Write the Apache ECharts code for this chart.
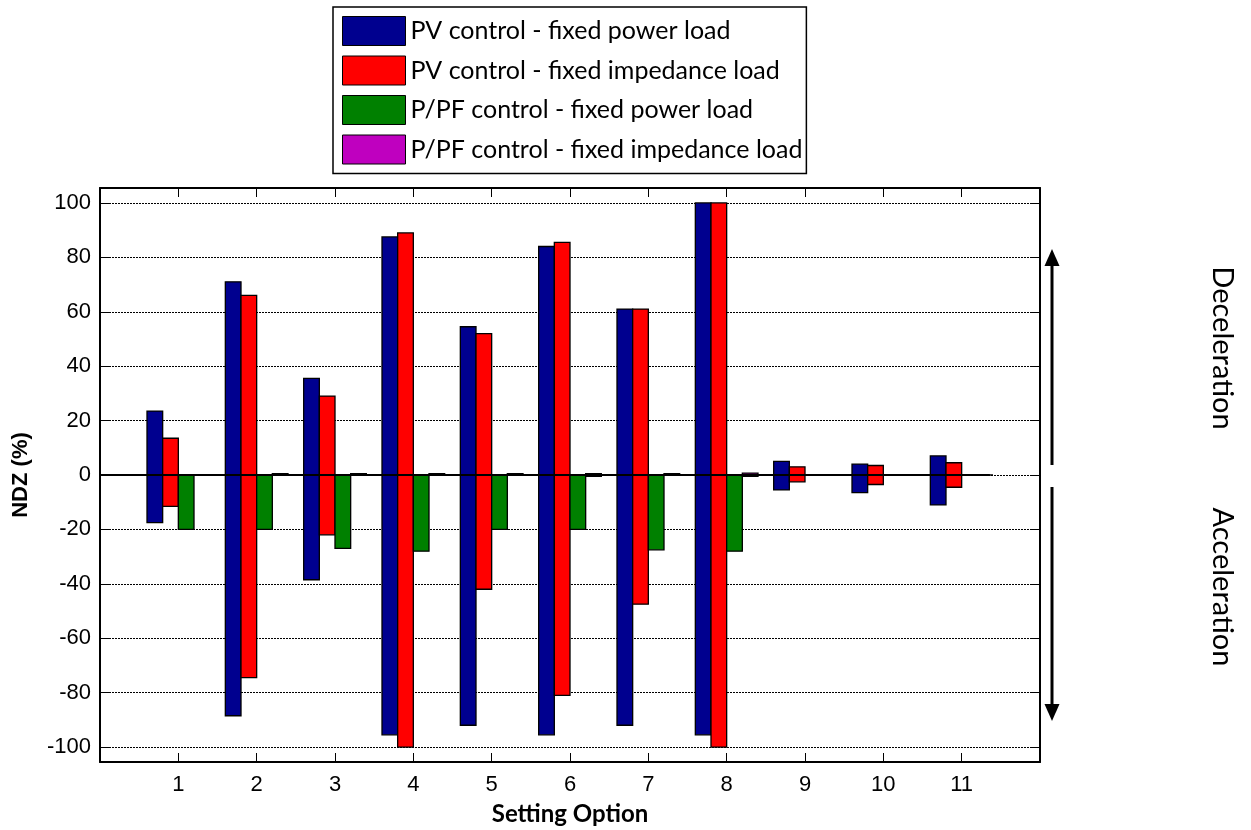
<!DOCTYPE html>
<html>
<head>
<meta charset="utf-8">
<title>NDZ by setting option</title>
<script src="https://cdn.jsdelivr.net/npm/echarts@6/dist/echarts.min.js"></script>
<style>
  html, body { margin: 0; padding: 0; background: #fff; }
  #chart { width: 1251px; height: 830px; }
</style>
</head>
<body>
<div id="chart"></div>
<script>
// Setting options on the x axis
const settingOptions = [1, 2, 3, 4, 5, 6, 7, 8, 9, 10, 11];
const yTicks = [-100, -80, -60, -40, -20, 0, 20, 40, 60, 80, 100];

// NDZ limits (%) per setting option: upper (deceleration) and lower (acceleration)
const pvPowerHigh = [23.5, 71, 35.5, 87.5, 54.5, 84, 61, 100, 5, 4, 7];
const pvPowerLow = [-17.5, -88.5, -38.5, -95.5, -92, -95.5, -92, -95.5, -5.5, -6.5, -11];
const pvImpHigh = [13.5, 66, 29, 89, 52, 85.5, 61, 100, 3, 3.5, 4.5];
const pvImpLow = [-11.5, -74.5, -22, -100, -42, -81, -47.5, -100, -2.5, -3.5, -4.5];
const pfPowerHigh = [0, 0, 0, 0, 0, 0, 0, 0, 0, 0, 0];
const pfPowerLow = [-20, -20, -27, -28, -20, -20, -27.5, -28, 0, 0, 0];
const pfImpHigh = [0, 0.5, 0.5, 0.5, 0.5, 0.5, 0.5, 0.7, 0, 0, 0];
const pfImpLow = [0, 0, 0, 0, 0, -0.5, 0, -0.5, 0, 0, 0];

// Zero baseline extent along x
const baselineX = [0, 11.36];

const seriesNames = [
  'PV control - fixed power load',
  'PV control - fixed impedance load',
  'P/PF control - fixed power load',
  'P/PF control - fixed impedance load'
];
const seriesColors = ['#00008F', '#FF0000', '#008000', '#BF00BF'];
const seriesHigh = [pvPowerHigh, pvImpHigh, pfPowerHigh, pfImpHigh];
const seriesLow = [pvPowerLow, pvImpLow, pfPowerLow, pfImpLow];

const BAR_W = 0.2;          // bar width in x units
const GROUP_W = BAR_W * 4;  // grouped bars centred on each option

function rangeBars(k) {
  return {
    type: 'custom',
    name: seriesNames[k],
    itemStyle: { color: seriesColors[k], borderColor: '#000', borderWidth: 1 },
    encode: { x: 0, y: [1, 2] },
    data: settingOptions.map((o, i) => [o, seriesLow[k][i], seriesHigh[k][i]]),
    renderItem: function (params, api) {
      const x0 = api.value(0) - GROUP_W / 2 + k * BAR_W;
      const p1 = api.coord([x0, api.value(2)]);
      const p2 = api.coord([x0 + BAR_W, api.value(1)]);
      return {
        type: 'rect',
        shape: { x: p1[0], y: p1[1], width: p2[0] - p1[0], height: p2[1] - p1[1] },
        style: { fill: seriesColors[k], stroke: '#000', lineWidth: 1.3 }
      };
    },
    z: 3
  };
}

const axisFont = { fontFamily: 'Liberation Sans, Arial, sans-serif', fontSize: 22, color: '#000' };

const chart = echarts.init(document.getElementById('chart'));
chart.setOption({
  animation: false,
  backgroundColor: '#fff',
  grid: { left: 100, right: 211, top: 188, bottom: 68, containLabel: false, outerBoundsMode: 'none' },
  legend: {
    orient: 'vertical',
    left: 333,
    top: 7,
    itemWidth: 63,
    itemHeight: 29,
    itemGap: 9.5,
    padding: [9, 4, 9, 9],
    borderColor: '#000',
    borderWidth: 1.5,
    icon: 'rect',
    selectedMode: false,
    textStyle: { fontFamily: 'Lato, sans-serif', fontSize: 25, lineHeight: 29, color: '#000' },
    data: seriesNames.map((n, k) => ({
      name: n,
      itemStyle: { color: seriesColors[k], borderColor: '#000', borderWidth: 1 }
    }))
  },
  xAxis: [
    {
      type: 'value', min: 0, max: 12, position: 'bottom',
      name: 'Setting Option', nameLocation: 'middle', nameGap: 40,
      nameTextStyle: { fontFamily: 'Lato, sans-serif', fontWeight: 'bold', fontSize: 24, color: '#000' },
      axisLine: { show: true, onZero: false, lineStyle: { color: '#000', width: 2 } },
      axisTick: { show: true, inside: true, length: 9, customValues: settingOptions, lineStyle: { color: '#000', width: 1 } },
      axisLabel: Object.assign({ customValues: settingOptions, margin: 12 }, axisFont),
      splitLine: { show: false }
    },
    {
      type: 'value', min: 0, max: 12, position: 'top',
      axisLine: { show: true, onZero: false, lineStyle: { color: '#000', width: 2 } },
      axisTick: { show: true, inside: true, length: 9, customValues: settingOptions, lineStyle: { color: '#000', width: 1 } },
      axisLabel: { show: false },
      splitLine: { show: false }
    }
  ],
  yAxis: [
    {
      type: 'value', min: -105.5, max: 105.5, position: 'left',
      name: 'NDZ (%)', nameLocation: 'middle', nameGap: 68,
      nameTextStyle: { fontFamily: 'Liberation Sans, Arial, sans-serif', fontWeight: 'bold', fontSize: 22, color: '#000' },
      axisLine: { show: true, onZero: false, lineStyle: { color: '#000', width: 2 } },
      axisTick: { show: true, inside: true, length: 9, customValues: yTicks, lineStyle: { color: '#000', width: 1 } },
      axisLabel: Object.assign({ customValues: yTicks, margin: 9 }, axisFont),
      splitLine: { show: true, lineStyle: { color: '#000', width: 1, type: [2, 1] } }
    },
    {
      type: 'value', min: -105.5, max: 105.5, position: 'right',
      axisLine: { show: true, onZero: false, lineStyle: { color: '#000', width: 2 } },
      axisTick: { show: true, inside: true, length: 9, customValues: yTicks, lineStyle: { color: '#000', width: 1 } },
      axisLabel: { show: false },
      splitLine: { show: false }
    }
  ],
  series: seriesNames.map((n, k) => rangeBars(k)).concat([
    {
      type: 'line',
      name: 'baseline',
      data: baselineX.map(x => [x, 0]),
      symbol: 'none',
      silent: true,
      lineStyle: { color: '#000', width: 2 },
      z: 5
    }
  ]),
  graphic: [
    // deceleration arrow (upwards)
    { type: 'line', shape: { x1: 1052, y1: 262, x2: 1052, y2: 465 }, style: { stroke: '#000', lineWidth: 3 } },
    { type: 'polygon', shape: { points: [[1052, 249], [1044.5, 266], [1059.5, 266]] }, style: { fill: '#000' } },
    // acceleration arrow (downwards)
    { type: 'line', shape: { x1: 1052, y1: 487, x2: 1052, y2: 708 }, style: { stroke: '#000', lineWidth: 3 } },
    { type: 'polygon', shape: { points: [[1052, 721], [1044.5, 704], [1059.5, 704]] }, style: { fill: '#000' } },
    {
      type: 'text', x: 1222, y: 348, rotation: -Math.PI / 2,
      style: { text: 'Deceleration', fill: '#000', font: '29px Lato, sans-serif', align: 'center', verticalAlign: 'middle' }
    },
    {
      type: 'text', x: 1222, y: 587, rotation: -Math.PI / 2,
      style: { text: 'Acceleration', fill: '#000', font: '29px Lato, sans-serif', align: 'center', verticalAlign: 'middle' }
    }
  ]
});
</script>
</body>
</html>
